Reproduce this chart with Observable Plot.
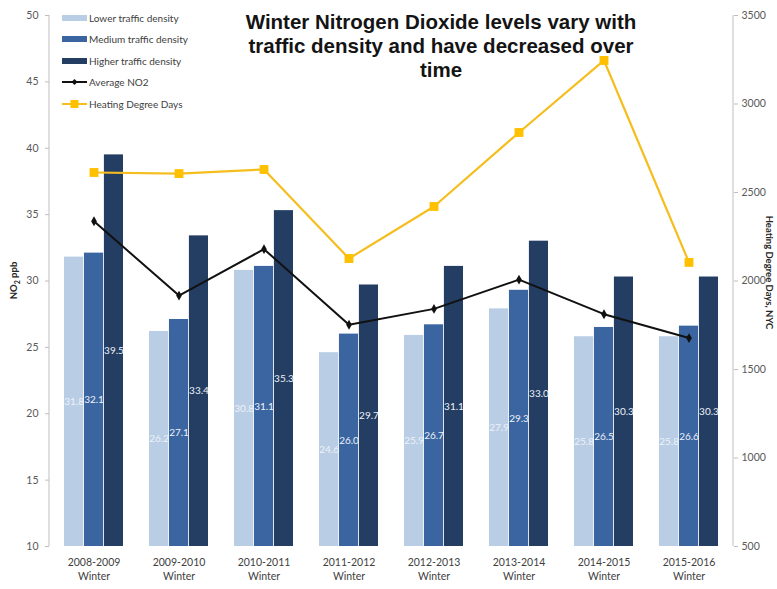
<!DOCTYPE html>
<html>
<head>
<meta charset="utf-8">
<script src="https://cdn.jsdelivr.net/npm/d3@7"></script>
<script src="https://cdn.jsdelivr.net/npm/@observablehq/plot@0.6"></script>
<style>
  html, body { margin: 0; padding: 0; background: #fff; }
  #wrap { position: relative; width: 777px; height: 589px; font-family: Lato, "Open Sans", sans-serif; }
  #title {
    position: absolute; left: 236px; top: 10px; width: 410px;
    text-align: center; font-family: "Liberation Sans", Arial, sans-serif;
    font-weight: bold; font-size: 20.5px; line-height: 24px; color: #141414;
  }
  #legend { position: absolute; left: 62px; top: 7px; font-size: 10px; color: #404040; }
  #legend .row { display: flex; align-items: center; height: 21.5px; }
  #legend svg { margin-right: 2px; }
</style>
</head>
<body>
<div id="wrap">
  <div id="title">Winter Nitrogen Dioxide levels vary with traffic density and have decreased over time</div>
  <div id="legend"></div>
</div>
<script>
// Winter seasons on the x axis
const seasons = ["2008-2009", "2009-2010", "2010-2011", "2011-2012", "2012-2013", "2013-2014", "2014-2015", "2015-2016"];
// NO2 (ppb) by traffic density
const lowerDensity  = [31.8, 26.2, 30.8, 24.6, 25.9, 27.9, 25.8, 25.8];
const mediumDensity = [32.1, 27.1, 31.1, 26.0, 26.7, 29.3, 26.5, 26.6];
const higherDensity = [39.5, 33.4, 35.3, 29.7, 31.1, 33.0, 30.3, 30.3];
// Average NO2 (ppb)
const averageNO2 = [34.5, 28.9, 32.4, 26.7, 27.9, 30.1, 27.5, 25.7];
// Heating degree days, NYC (right axis)
const heatingDegreeDays = [2613, 2607, 2630, 2127, 2421, 2839, 3246, 2105];
// Axis ticks
const no2Ticks = [10, 15, 20, 25, 30, 35, 40, 45, 50];
const hddTicks = [500, 1000, 1500, 2000, 2500, 3000, 3500];

const seriesNames = ["Lower traffic density", "Medium traffic density", "Higher traffic density"];
const seriesColors = ["#b9cde5", "#3a65a0", "#233d63"];
const lineColorNO2 = "#111111";
const lineColorHDD = "#f5be1e";

const no2Domain = [10, 50];
const hddDomain = [500, 3500];
// map heating degree days onto the NO2 scale so both share one y scale
const hddToNo2 = v => no2Domain[0] + (v - hddDomain[0]) / (hddDomain[1] - hddDomain[0]) * (no2Domain[1] - no2Domain[0]);
const no2ToHdd = v => hddDomain[0] + (v - no2Domain[0]) / (no2Domain[1] - no2Domain[0]) * (hddDomain[1] - hddDomain[0]);

const bars = [];
[lowerDensity, mediumDensity, higherDensity].forEach((arr, s) => {
  arr.forEach((v, i) => bars.push({season: seasons[i], series: s, value: v}));
});
const lines = seasons.map((season, i) => ({season, no2: averageNO2[i], hdd: heatingDegreeDays[i]}));

const W = 777, H = 589;
const mL = 49, mR = 44, mT = 15, mB = 43;
const bandPadInner = 0.3, bandPadOuter = 0.15;
const bandwidth = (W - mL - mR) / (seasons.length) * (1 - bandPadInner);
const third = bandwidth / 3;

const barMarks = [0, 1, 2].map(s => Plot.barY(bars.filter(d => d.series === s), {
  x: "season",
  y1: () => no2Domain[0],
  y2: "value",
  fill: seriesColors[s],
  insetLeft: s * third,
  insetRight: (2 - s) * third
}));
const barLabels = [0, 1, 2].map(s => Plot.text(bars.filter(d => d.series === s), {
  x: "season",
  y: d => (d.value + no2Domain[0]) / 2,
  text: d => d.value.toFixed(1),
  dx: (s - 1) * third,
  fill: "#eef2f8",
  fontSize: 10
}));

const chart = Plot.plot({
  width: W, height: H,
  marginLeft: mL, marginRight: mR, marginTop: mT, marginBottom: mB,
  style: {fontFamily: "Lato, 'Open Sans', sans-serif", background: "#fff"},
  x: {domain: seasons, paddingInner: bandPadInner, paddingOuter: bandPadOuter, axis: null},
  y: {domain: no2Domain, axis: null},
  marks: [
    ...barMarks,
    ...barLabels,
    Plot.line(lines, {x: "season", y: "no2", stroke: lineColorNO2, strokeWidth: 2}),
    Plot.dot(lines, {x: "season", y: "no2", fill: lineColorNO2, r: 3, symbol: "diamond"}),
    Plot.line(lines, {x: "season", y: d => hddToNo2(d.hdd), stroke: lineColorHDD, strokeWidth: 2.2}),
    Plot.dot(lines, {x: "season", y: d => hddToNo2(d.hdd), fill: "#ffc000", r: 5, symbol: "square"}),
    Plot.axisY(no2Ticks, {anchor: "left", tickSize: 4, tickPadding: 7, stroke: "#bfbfbf", color: "#595959", fontSize: 10.5, label: null}),
    Plot.axisY(hddTicks.map(hddToNo2), {anchor: "right", tickSize: 4, tickPadding: 4, stroke: "#bfbfbf", color: "#595959", fontSize: 10.5, label: null, tickFormat: d => String(Math.round(no2ToHdd(d)))}),
    Plot.axisX(seasons, {anchor: "bottom", tickSize: 0, tickPadding: 10, color: "#404040", fontSize: 10.5, lineHeight: 1.3, label: null, tickFormat: d => d + "\nWinter"})
  ]
});

// axis lines and rotated axis titles
const svg = d3.select(chart);
svg.append("line").attr("x1", mL).attr("x2", mL).attr("y1", mT).attr("y2", H - mB).attr("stroke", "#bfbfbf");
svg.append("line").attr("x1", W - mR).attr("x2", W - mR).attr("y1", mT).attr("y2", H - mB).attr("stroke", "#bfbfbf");
const leftTitle = svg.append("text")
  .attr("transform", `translate(15,${(mT + H - mB) / 2}) rotate(-90)`)
  .attr("text-anchor", "middle").attr("dominant-baseline", "middle")
  .attr("font-size", 9.5).attr("font-weight", "bold").attr("fill", "#262626");
leftTitle.append("tspan").text("NO");
leftTitle.append("tspan").attr("font-size", 7).attr("dy", 3).text("2");
leftTitle.append("tspan").attr("dy", -3).text(" ppb");
svg.append("text")
  .attr("transform", `translate(768,${(mT + H - mB) / 2 - 8}) rotate(90)`)
  .attr("text-anchor", "middle").attr("dominant-baseline", "middle")
  .attr("font-size", 9.5).attr("font-weight", "bold").attr("fill", "#262626")
  .text("Heating Degree Days, NYC");

const wrap = document.getElementById("wrap");
wrap.insertBefore(chart, wrap.firstChild);

// legend
const legend = d3.select("#legend");
seriesNames.forEach((name, s) => {
  const row = legend.append("div").attr("class", "row");
  const sw = row.append("svg").attr("width", 25).attr("height", 8);
  sw.append("rect").attr("x", 0).attr("y", 1).attr("width", 25).attr("height", 6).attr("fill", seriesColors[s]);
  row.append("span").text(name);
});
const lineItems = [
  {name: "Average NO2", color: lineColorNO2, marker: "diamond"},
  {name: "Heating Degree Days", color: lineColorHDD, marker: "square"}
];
lineItems.forEach(item => {
  const row = legend.append("div").attr("class", "row");
  const sw = row.append("svg").attr("width", 25).attr("height", 12);
  sw.append("line").attr("x1", 0).attr("x2", 25).attr("y1", 6).attr("y2", 6).attr("stroke", item.color).attr("stroke-width", 2);
  if (item.marker === "square") {
    sw.append("rect").attr("x", 8.5).attr("y", 2).attr("width", 8).attr("height", 8).attr("fill", "#ffc000");
  } else {
    sw.append("path").attr("d", "M12.5,3 L15.5,6 L12.5,9 L9.5,6 Z").attr("fill", item.color);
  }
  row.append("span").text(item.name);
});
</script>
</body>
</html>
